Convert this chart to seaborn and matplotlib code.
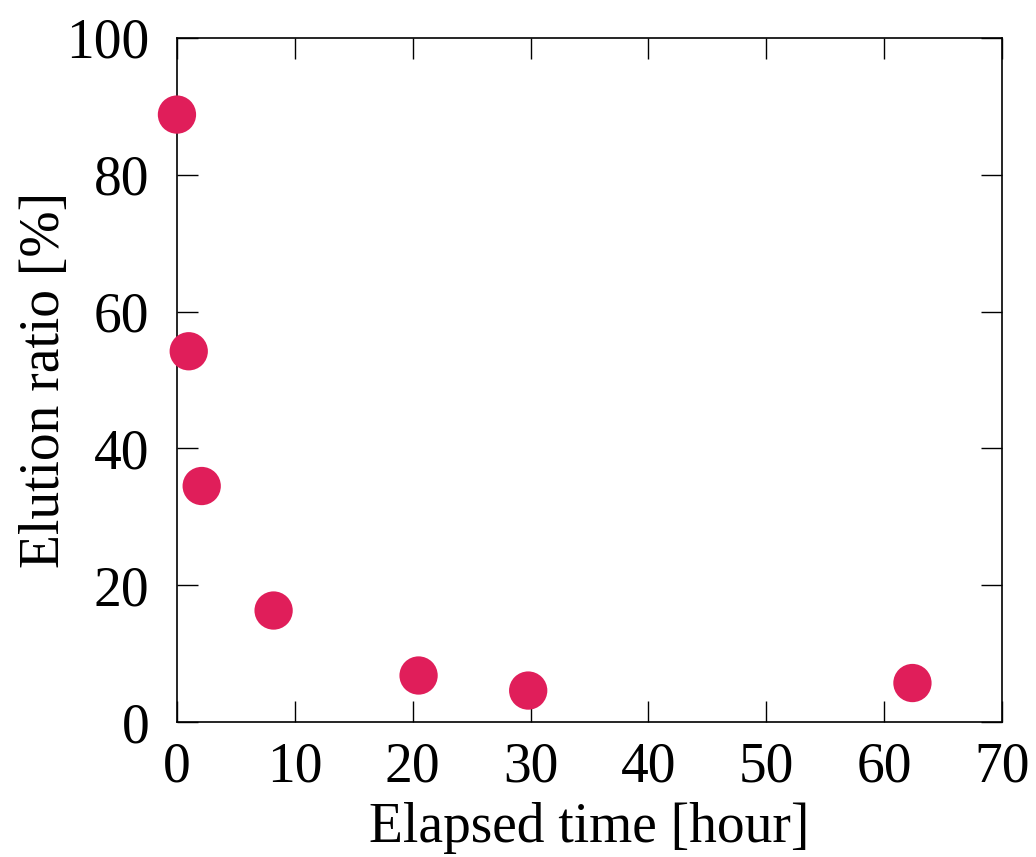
import matplotlib
matplotlib.use("Agg")
import matplotlib.pyplot as plt
import seaborn as sns
import pandas as pd

# datos
tiempo = [0.0, 1.0, 2.1, 8.2, 20.5, 29.8, 62.4]
elucion = [88.8, 54.2, 34.5, 16.3, 6.8, 4.6, 5.7]

df = pd.DataFrame({"Elapsed time [hour]": tiempo, "Elution ratio [%]": elucion})

sns.set_style("ticks")
plt.rcParams["font.family"] = ["Liberation Serif", "DejaVu Serif"]
plt.rcParams["text.color"] = "black"
plt.rcParams["axes.labelcolor"] = "black"

fig = plt.figure(figsize=(10.36, 8.57), dpi=100)
ax = fig.add_axes([0.1708, 0.1575, 0.7964, 0.7982])

sns.scatterplot(data=df, x="Elapsed time [hour]", y="Elution ratio [%]",
                color="#E01E5A", s=760, edgecolor="none", ax=ax, clip_on=False, zorder=3)

ax.set_xlim(0, 70)
ax.set_ylim(0, 100)
ax.set_xticks(range(0, 71, 10))
ax.set_yticks(range(0, 101, 20))
ax.tick_params(direction="in", length=15, width=1, top=True, right=True,
               labelsize=40, colors="black")
ax.tick_params(axis="x", pad=14)
ax.tick_params(axis="y", pad=20)
for sp in ax.spines.values():
    sp.set_visible(True)
    sp.set_linewidth(1.2)
    sp.set_color("black")
ax.set_xlabel("Elapsed time [hour]", fontsize=40, labelpad=6, color="black")
ax.set_ylabel("Elution ratio [%]", fontsize=40, labelpad=-4, color="black")

fig.savefig("out.png", dpi=100)
